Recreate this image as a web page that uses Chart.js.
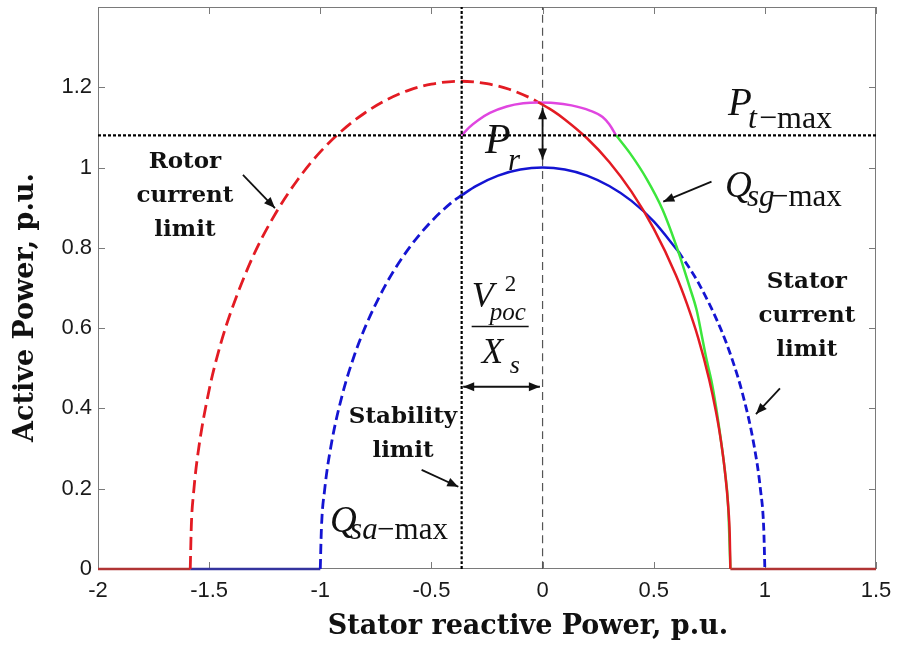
<!DOCTYPE html>
<html>
<head>
<meta charset="utf-8">
<script src="https://cdn.jsdelivr.net/npm/chart.js@4.4.0/dist/chart.umd.min.js"></script>
<style>
  html, body { margin: 0; padding: 0; background: #fff; }
</style>
</head>
<body>
<canvas id="chart" width="899" height="646"></canvas>
<script>
// axis ticks
const xTicks = [-2, -1.5, -1, -0.5, 0, 0.5, 1, 1.5];
const xTickLabels = ['-2', '-1.5', '-1', '-0.5', '0', '0.5', '1', '1.5'];
const yTicks = [0, 0.2, 0.4, 0.6, 0.8, 1, 1.2];
const yTickLabels = ['0', '0.2', '0.4', '0.6', '0.8', '1', '1.2'];

// rotor current limit (red)
const rotorDashQ = [-1.585, -1.58, -1.57, -1.55, -1.5, -1.45, -1.4, -1.3, -1.2, -1.1, -1.0, -0.9, -0.8, -0.7, -0.6, -0.5, -0.37, -0.25, -0.15, -0.05, -0.02];
const rotorDashP = [0, 0.110, 0.190, 0.289, 0.446, 0.557, 0.644, 0.782, 0.887, 0.971, 1.039, 1.093, 1.136, 1.169, 1.193, 1.208, 1.215, 1.209, 1.195, 1.172, 1.163];
const rotorSolidQ = [-0.02, 0.05, 0.1, 0.2, 0.3, 0.4, 0.5, 0.6, 0.65, 0.7, 0.75, 0.78, 0.8, 0.82, 0.835, 0.842, 0.845];
const rotorSolidP = [1.163, 1.140, 1.120, 1.073, 1.014, 0.940, 0.848, 0.732, 0.660, 0.576, 0.471, 0.392, 0.328, 0.245, 0.156, 0.085, 0];

// stator current limit (blue)
const statorDashLeftQ = [-1, -0.995, -0.98, -0.95, -0.9, -0.85, -0.8, -0.7, -0.6, -0.5, -0.4, -0.364];
const statorDashLeftP = [0, 0.1, 0.199, 0.312, 0.436, 0.527, 0.6, 0.714, 0.8, 0.866, 0.917, 0.931];
const statorSolidQ = [-0.364, -0.3, -0.2, -0.1, 0, 0.1, 0.2, 0.3, 0.4, 0.5, 0.611];
const statorSolidP = [0.931, 0.954, 0.980, 0.995, 1, 0.995, 0.980, 0.954, 0.917, 0.866, 0.791];
const statorDashRightQ = [0.611, 0.7, 0.8, 0.85, 0.9, 0.95, 0.98, 0.995, 1.0];
const statorDashRightP = [0.791, 0.714, 0.6, 0.527, 0.436, 0.312, 0.199, 0.1, 0];

// operating limit pieces (magenta, green)
const magentaQ = [-0.364, -0.33, -0.29, -0.237, -0.161, -0.087, -0.02, 0.05, 0.13, 0.213, 0.27, 0.30, 0.33];
const magentaP = [1.080, 1.100, 1.118, 1.136, 1.152, 1.160, 1.162, 1.161, 1.155, 1.142, 1.126, 1.108, 1.081];
const qsgQ = [0.33, 0.393, 0.468, 0.54, 0.611, 0.66, 0.693, 0.715, 0.738, 0.76, 0.78, 0.80, 0.82, 0.835, 0.845];
const qsgP = [1.081, 1.036, 0.972, 0.895, 0.790, 0.705, 0.645, 0.585, 0.521, 0.468, 0.405, 0.33, 0.245, 0.156, 0];

// flat parts on P = 0
const baseRedLeftQ = [-2, -1.585];
const baseBlueQ = [-1.585, -1];
const baseRedRightQ = [0.845, 1.5];
const baseP = [0, 0];

// reference lines
const pTmax = 1.08;
const stabilityQ = -0.364;
const fullP = [0, 1.4];

// arrows: q1, p1, q2, p2, double headed
const arrowSegs = [
  [-1.348, 0.982, -1.204, 0.899, false],
  [-0.544, 0.247, -0.379, 0.205, false],
  [1.068, 0.450, 0.960, 0.386, false],
  [0.760, 0.965, 0.543, 0.915, false],
  [0, 1.02, 0, 1.148, true],
  [-0.357, 0.454, -0.012, 0.454, true]
];

// bold text notes: centre q, first baseline p, lines
const notes = [
  [-1.609, 1.0, ['Rotor', 'current', 'limit']],
  [-0.628, 0.363, ['Stability', 'limit']],
  [1.189, 0.700, ['Stator', 'current', 'limit']]
];

const pts = (qs, ps) => qs.map((q, i) => ({ x: q, y: ps[i] }));

const RED = '#e31b23';
const BLUE = '#1414d2';

function curve(qs, ps, color, width, dash, order) {
  return {
    data: pts(qs, ps),
    showLine: true,
    borderColor: color,
    borderWidth: width,
    borderDash: dash,
    pointRadius: 0,
    cubicInterpolationMode: 'monotone',
    clip: 4,
    order: order
  };
}

const datasets = [
  curve([-2, 1.5], [pTmax, pTmax], '#000', 2.2, [3, 2], 1),
  curve([stabilityQ, stabilityQ], fullP, '#000', 2.2, [3, 2], 1),
  curve([0, 0], fullP, '#555', 1.2, [8, 5], 2),
  curve(rotorSolidQ, rotorSolidP, RED, 2.5, [], 3),
  curve(magentaQ, magentaP, '#e046e0', 2.5, [], 4),
  curve(qsgQ, qsgP, '#3ce63c', 2.5, [], 5),
  curve(statorSolidQ, statorSolidP, BLUE, 2.5, [], 6),
  curve(rotorDashQ, rotorDashP, RED, 2.8, [13, 6], 7),
  curve(statorDashLeftQ, statorDashLeftP, BLUE, 2.8, [10, 5], 7),
  curve(statorDashRightQ, statorDashRightP, BLUE, 2.8, [8, 4], 7),
  curve(baseRedLeftQ, baseP, '#b03434', 2.5, [], 8),
  curve(baseBlueQ, baseP, '#34349e', 2.5, [], 8),
  curve(baseRedRightQ, baseP, '#b03434', 2.5, [], 8)
];

// box with inward ticks on all four sides
const framePlugin = {
  id: 'frame',
  beforeDatasetsDraw(chart) {
    const { ctx, chartArea: a, scales } = chart;
    ctx.save();
    ctx.strokeStyle = '#7a7a7a';
    ctx.lineWidth = 1;
    ctx.strokeRect(a.left + 0.5, a.top + 0.5, a.right - a.left - 1, a.bottom - a.top - 1);
    ctx.beginPath();
    xTicks.forEach(v => {
      const x = Math.round(scales.x.getPixelForValue(v)) + 0.5;
      ctx.moveTo(x, a.bottom); ctx.lineTo(x, a.bottom - 7);
      ctx.moveTo(x, a.top); ctx.lineTo(x, a.top + 7);
    });
    yTicks.forEach(v => {
      const y = Math.round(scales.y.getPixelForValue(v)) + 0.5;
      ctx.moveTo(a.left, y); ctx.lineTo(a.left + 7, y);
      ctx.moveTo(a.right, y); ctx.lineTo(a.right - 7, y);
    });
    ctx.stroke();
    ctx.restore();
  }
};

function arrowHead(ctx, x1, y1, x2, y2) {
  const ang = Math.atan2(y2 - y1, x2 - x1);
  const len = 11, half = 4.5;
  ctx.beginPath();
  ctx.moveTo(x2, y2);
  ctx.lineTo(x2 - len * Math.cos(ang) + half * Math.sin(ang), y2 - len * Math.sin(ang) - half * Math.cos(ang));
  ctx.lineTo(x2 - len * Math.cos(ang) - half * Math.sin(ang), y2 - len * Math.sin(ang) + half * Math.cos(ang));
  ctx.closePath();
  ctx.fill();
}

function runs(ctx, x, y, list) {
  list.forEach(([t, style, size, dx, dy]) => {
    ctx.font = style + ' ' + size + 'px "Liberation Serif"';
    ctx.fillText(t, x + dx, y + dy);
  });
}

const notesPlugin = {
  id: 'notes',
  afterDraw(chart) {
    const { ctx, scales } = chart;
    const px = q => scales.x.getPixelForValue(q);
    const py = p => scales.y.getPixelForValue(p);
    ctx.save();
    ctx.fillStyle = '#111';
    ctx.strokeStyle = '#111';
    ctx.lineWidth = 1.8;

    arrowSegs.forEach(([q1, p1, q2, p2, both]) => {
      const x1 = px(q1), y1 = py(p1), x2 = px(q2), y2 = py(p2);
      ctx.beginPath(); ctx.moveTo(x1, y1); ctx.lineTo(x2, y2); ctx.stroke();
      arrowHead(ctx, x1, y1, x2, y2);
      if (both) arrowHead(ctx, x2, y2, x1, y1);
    });

    ctx.textAlign = 'center';
    ctx.textBaseline = 'alphabetic';
    ctx.font = 'bold 23px "DejaVu Serif"';
    notes.forEach(([q, p, lines]) => {
      lines.forEach((s, i) => ctx.fillText(s, px(q), py(p) + i * 34));
    });

    // math labels
    ctx.textAlign = 'left';
    runs(ctx, px(0.834), py(1.131), [['P', 'italic', 39, 0, 0], ['t', 'italic', 32, 20, 13], ['\u2212max', 'normal', 32, 31, 13]]);
    runs(ctx, px(0.8205), py(0.927), [['Q', 'italic', 37, 0, 0], ['sg', 'italic', 31, 22, 9], ['\u2212max', 'normal', 31, 46, 9]]);
    runs(ctx, px(-0.956), py(0.092), [['Q', 'italic', 37, 0, 0], ['sa', 'italic', 31, 20, 7], ['\u2212max', 'normal', 31, 47, 7]]);
    runs(ctx, px(-0.259), py(1.036), [['P', 'italic', 42, 0, 0], ['r', 'italic', 31, 23, 17]]);
    const fx = px(-0.319), fy = py(0.604);
    runs(ctx, fx, fy, [['V', 'italic', 36, 0, -20], ['2', 'normal', 23, 33, -36], ['poc', 'italic', 25, 18, -7], ['X', 'italic', 35, 10, 36], ['s', 'italic', 26, 38, 46]]);
    ctx.lineWidth = 1.4;
    ctx.beginPath(); ctx.moveTo(fx, fy); ctx.lineTo(fx + 57, fy); ctx.stroke();

    // axis titles
    ctx.textAlign = 'center';
    ctx.font = 'bold 27px "DejaVu Serif"';
    ctx.fillText('Stator reactive Power, p.u.', 528, 634);
    ctx.translate(33, 307.5);
    ctx.rotate(-Math.PI / 2);
    ctx.fillText('Active Power, p.u.', 0, 0);
    ctx.restore();
  }
};

new Chart(document.getElementById('chart'), {
  type: 'scatter',
  data: { datasets: datasets },
  options: {
    responsive: false,
    animation: false,
    devicePixelRatio: 1,
    layout: { padding: { top: 7, right: 23, left: 0, bottom: 0 } },
    plugins: { legend: { display: false }, tooltip: { enabled: false } },
    scales: {
      x: {
        type: 'linear', min: -2, max: 1.5,
        grid: { display: false, drawTicks: false },
        border: { display: false },
        afterBuildTicks: s => { s.ticks = xTicks.map(v => ({ value: v })); },
        afterFit: s => { s.height = 77; s.paddingLeft = 0; s.paddingRight = 0; },
        ticks: {
          callback: (v, i) => xTickLabels[i],
          font: { family: 'Liberation Sans', size: 22 },
          color: '#1a1a1a', padding: 9, maxRotation: 0, autoSkip: false
        }
      },
      y: {
        type: 'linear', min: 0, max: 1.4,
        grid: { display: false, drawTicks: false },
        border: { display: false },
        afterBuildTicks: s => { s.ticks = yTicks.map(v => ({ value: v })); },
        afterFit: s => { s.width = 98; s.paddingTop = 0; s.paddingBottom = 0; },
        ticks: {
          callback: (v, i) => yTickLabels[i],
          font: { family: 'Liberation Sans', size: 22 },
          color: '#1a1a1a', padding: 6, autoSkip: false
        }
      }
    }
  },
  plugins: [framePlugin, notesPlugin]
});
</script>
</body>
</html>
